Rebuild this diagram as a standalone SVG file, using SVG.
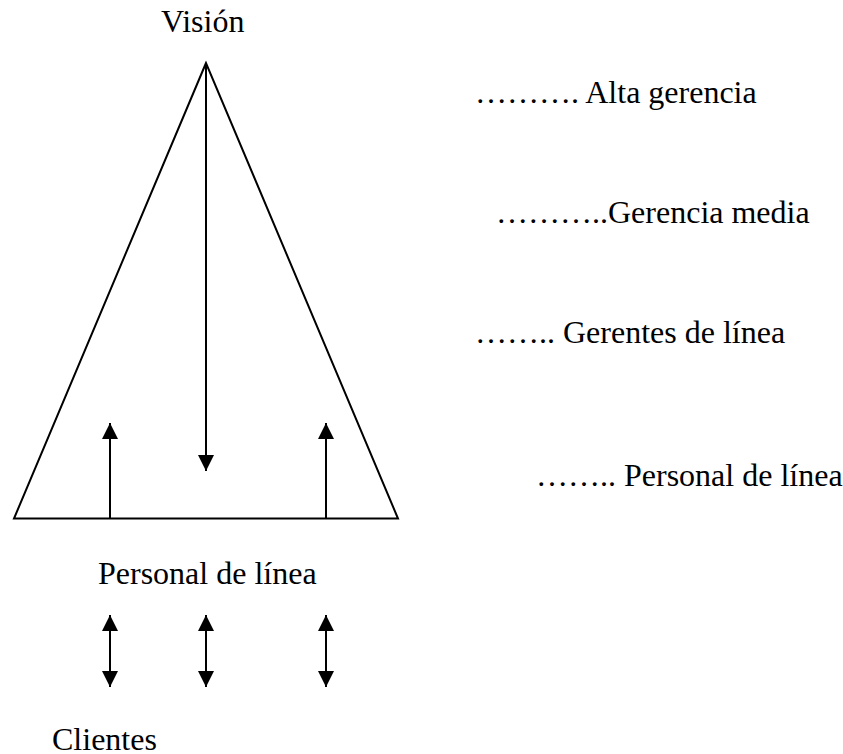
<svg xmlns="http://www.w3.org/2000/svg" width="843" height="754" viewBox="0 0 843 754">
<style>
text{font-family:"Liberation Serif","Times New Roman",serif;font-size:32px;fill:#000}
.ln{stroke:#000;stroke-width:2;fill:none}
</style>
<defs>
<marker id="ah" viewBox="0 0 16 16" refX="16" refY="8" markerWidth="16" markerHeight="16" markerUnits="userSpaceOnUse" orient="auto-start-reverse">
<path d="M0,0 L16,8 L0,16 z" fill="#000"/>
</marker>
</defs>
<rect width="843" height="754" fill="#fff"/>
<g id="pyramid">
<polygon class="ln" points="206,63 14,518.5 398,518.5" stroke-linejoin="miter"/>
</g>
<g id="vision"><text x="161" y="32">Visión</text></g>
<g id="alta"><text x="475" y="103">………. Alta gerencia</text></g>
<g id="media"><text x="496" y="223">………..Gerencia media</text></g>
<g id="gerentes"><text x="475" y="343">…….. Gerentes de línea</text></g>
<g id="personal-right"><text x="536" y="486">…….. Personal de línea</text></g>
<g id="personal"><text x="98" y="584">Personal de línea</text></g>
<g id="clientes"><text x="52" y="750">Clientes</text></g>
<g id="connectors">
<line class="ln" x1="206" y1="63" x2="206" y2="471" marker-end="url(#ah)"/>
<line class="ln" x1="110" y1="518" x2="110" y2="423" marker-end="url(#ah)"/>
<line class="ln" x1="326" y1="518" x2="326" y2="423" marker-end="url(#ah)"/>
<line class="ln" x1="110" y1="615" x2="110" y2="687" marker-start="url(#ah)" marker-end="url(#ah)"/>
<line class="ln" x1="206" y1="615" x2="206" y2="687" marker-start="url(#ah)" marker-end="url(#ah)"/>
<line class="ln" x1="326" y1="615" x2="326" y2="687" marker-start="url(#ah)" marker-end="url(#ah)"/>
</g>
</svg>
